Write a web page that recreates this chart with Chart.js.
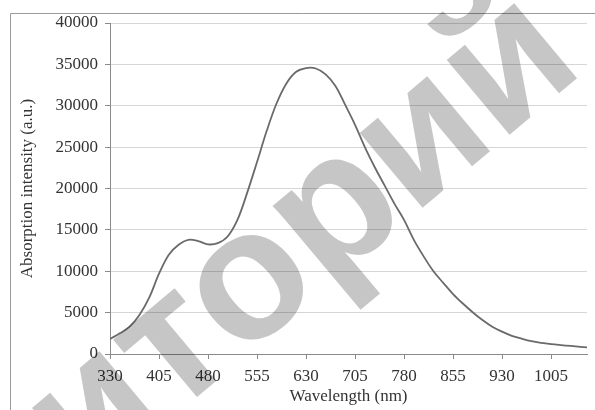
<!DOCTYPE html>
<html>
<head>
<meta charset="utf-8">
<script src="https://cdn.jsdelivr.net/npm/chart.js@4.4.1/dist/chart.umd.min.js"></script>
<style>
  body { margin: 0; background: #fff; }
  #chart { display: block; }
</style>
</head>
<body>
<canvas id="chart" width="595" height="410"></canvas>
<script>
// wavelength (nm) and absorption intensity (a.u.)
var wavelengths = [330, 345, 360, 375, 390, 405, 420, 435, 450, 465, 480, 495, 510, 525, 540, 555, 570, 585, 600, 615,
  630, 645, 660, 675, 690, 705, 720, 735, 750, 765, 780, 795, 810, 825, 840, 855, 870, 885, 900, 915,
  930, 945, 960, 975, 990, 1005, 1020, 1035, 1050, 1060];
var intensity = [1800, 2500, 3300, 4700, 6800, 9700, 12000, 13200, 13800, 13650, 13250, 13400, 14200, 16200, 19500, 23200, 27000, 30300, 32700, 34100,
  34550, 34500, 33800, 32400, 30100, 27700, 25000, 22600, 20400, 18200, 16200, 13800, 11800, 10000, 8600, 7250, 6100, 5050, 4100, 3300,
  2700, 2200, 1850, 1550, 1350, 1200, 1080, 970, 870, 800];

var xTicks = [330, 405, 480, 555, 630, 705, 780, 855, 930, 1005];
var yTicks = [0, 5000, 10000, 15000, 20000, 25000, 30000, 35000, 40000];

var xTitle = 'Wavelength (nm)';
var yTitle = 'Absorption intensity (a.u.)';
var watermarkLeft = 'зи';
var watermarkRight = 'торий';

var points = [];
for (var i = 0; i < wavelengths.length; i++) {
  points.push({ x: wavelengths[i], y: intensity[i] });
}

var serif = '"Liberation Serif", "Times New Roman", serif';

// frame round the figure (left and top edges show)
var framePlugin = {
  id: 'frame',
  beforeDraw: function(chart) {
    var ctx = chart.ctx;
    ctx.save();
    ctx.strokeStyle = '#9a9a9a';
    ctx.lineWidth = 1;
    ctx.beginPath();
    ctx.moveTo(10.5, 410);
    ctx.lineTo(10.5, 13.5);
    ctx.lineTo(595, 13.5);
    ctx.stroke();
    ctx.restore();
  }
};

// grey watermark letters over everything
var watermarkPlugin = {
  id: 'watermark',
  afterDraw: function(chart) {
    var ctx = chart.ctx;
    ctx.save();
    ctx.globalCompositeOperation = 'multiply';
    ctx.fillStyle = '#c6c6c6';
    ctx.font = 'bold 185px "Liberation Sans", Arial, sans-serif';
    ctx.translate(172, 418);
    ctx.rotate(-40 * Math.PI / 180);
    ctx.textBaseline = 'alphabetic';
    ctx.textAlign = 'left';
    ctx.fillText(watermarkRight, 0, 0);
    ctx.textAlign = 'right';
    ctx.fillText(watermarkLeft, 0, 0);
    ctx.restore();
  }
};

var chart = new Chart(document.getElementById('chart'), {
  type: 'line',
  data: {
    datasets: [{
      data: points,
      borderColor: '#6a6a6a',
      borderWidth: 1.8,
      pointRadius: 0,
      fill: false,
      tension: 0.35
    }]
  },
  options: {
    responsive: false,
    animation: false,
    events: [],
    layout: { padding: { top: 23, right: 8, left: 0, bottom: 0 } },
    plugins: {
      legend: { display: false },
      tooltip: { enabled: false }
    },
    scales: {
      x: {
        type: 'linear',
        min: 330,
        max: 1060,
        afterBuildTicks: function(scale) {
          scale.ticks = xTicks.map(function(v) { return { value: v }; });
        },
        afterFit: function(scale) { scale.height = 56; },
        grid: { drawOnChartArea: false, tickLength: 5, tickColor: '#8a8a8a' },
        border: { color: '#8a8a8a', width: 1 },
        ticks: {
          autoSkip: false,
          maxRotation: 0,
          padding: 7,
          color: '#333',
          font: { family: serif, size: 17 },
          callback: function(v) { return String(v); }
        },
        title: {
          display: true,
          text: xTitle,
          color: '#333',
          font: { family: serif, size: 17 },
          padding: { top: 0, bottom: 3 }
        }
      },
      y: {
        min: 0,
        max: 40000,
        afterBuildTicks: function(scale) {
          scale.ticks = yTicks.map(function(v) { return { value: v }; });
        },
        afterFit: function(scale) { scale.width = 110; },
        grid: { color: '#d6d6d6', lineWidth: 1, tickLength: 5, tickColor: '#8a8a8a' },
        border: { color: '#8a8a8a', width: 1 },
        ticks: {
          padding: 7,
          color: '#333',
          font: { family: serif, size: 17 },
          callback: function(v) { return String(v); }
        },
        title: {
          display: true,
          text: yTitle,
          color: '#333',
          font: { family: serif, size: 17 },
          padding: { top: 17, bottom: 0 }
        }
      }
    }
  },
  plugins: [framePlugin, watermarkPlugin]
});
</script>
</body>
</html>
